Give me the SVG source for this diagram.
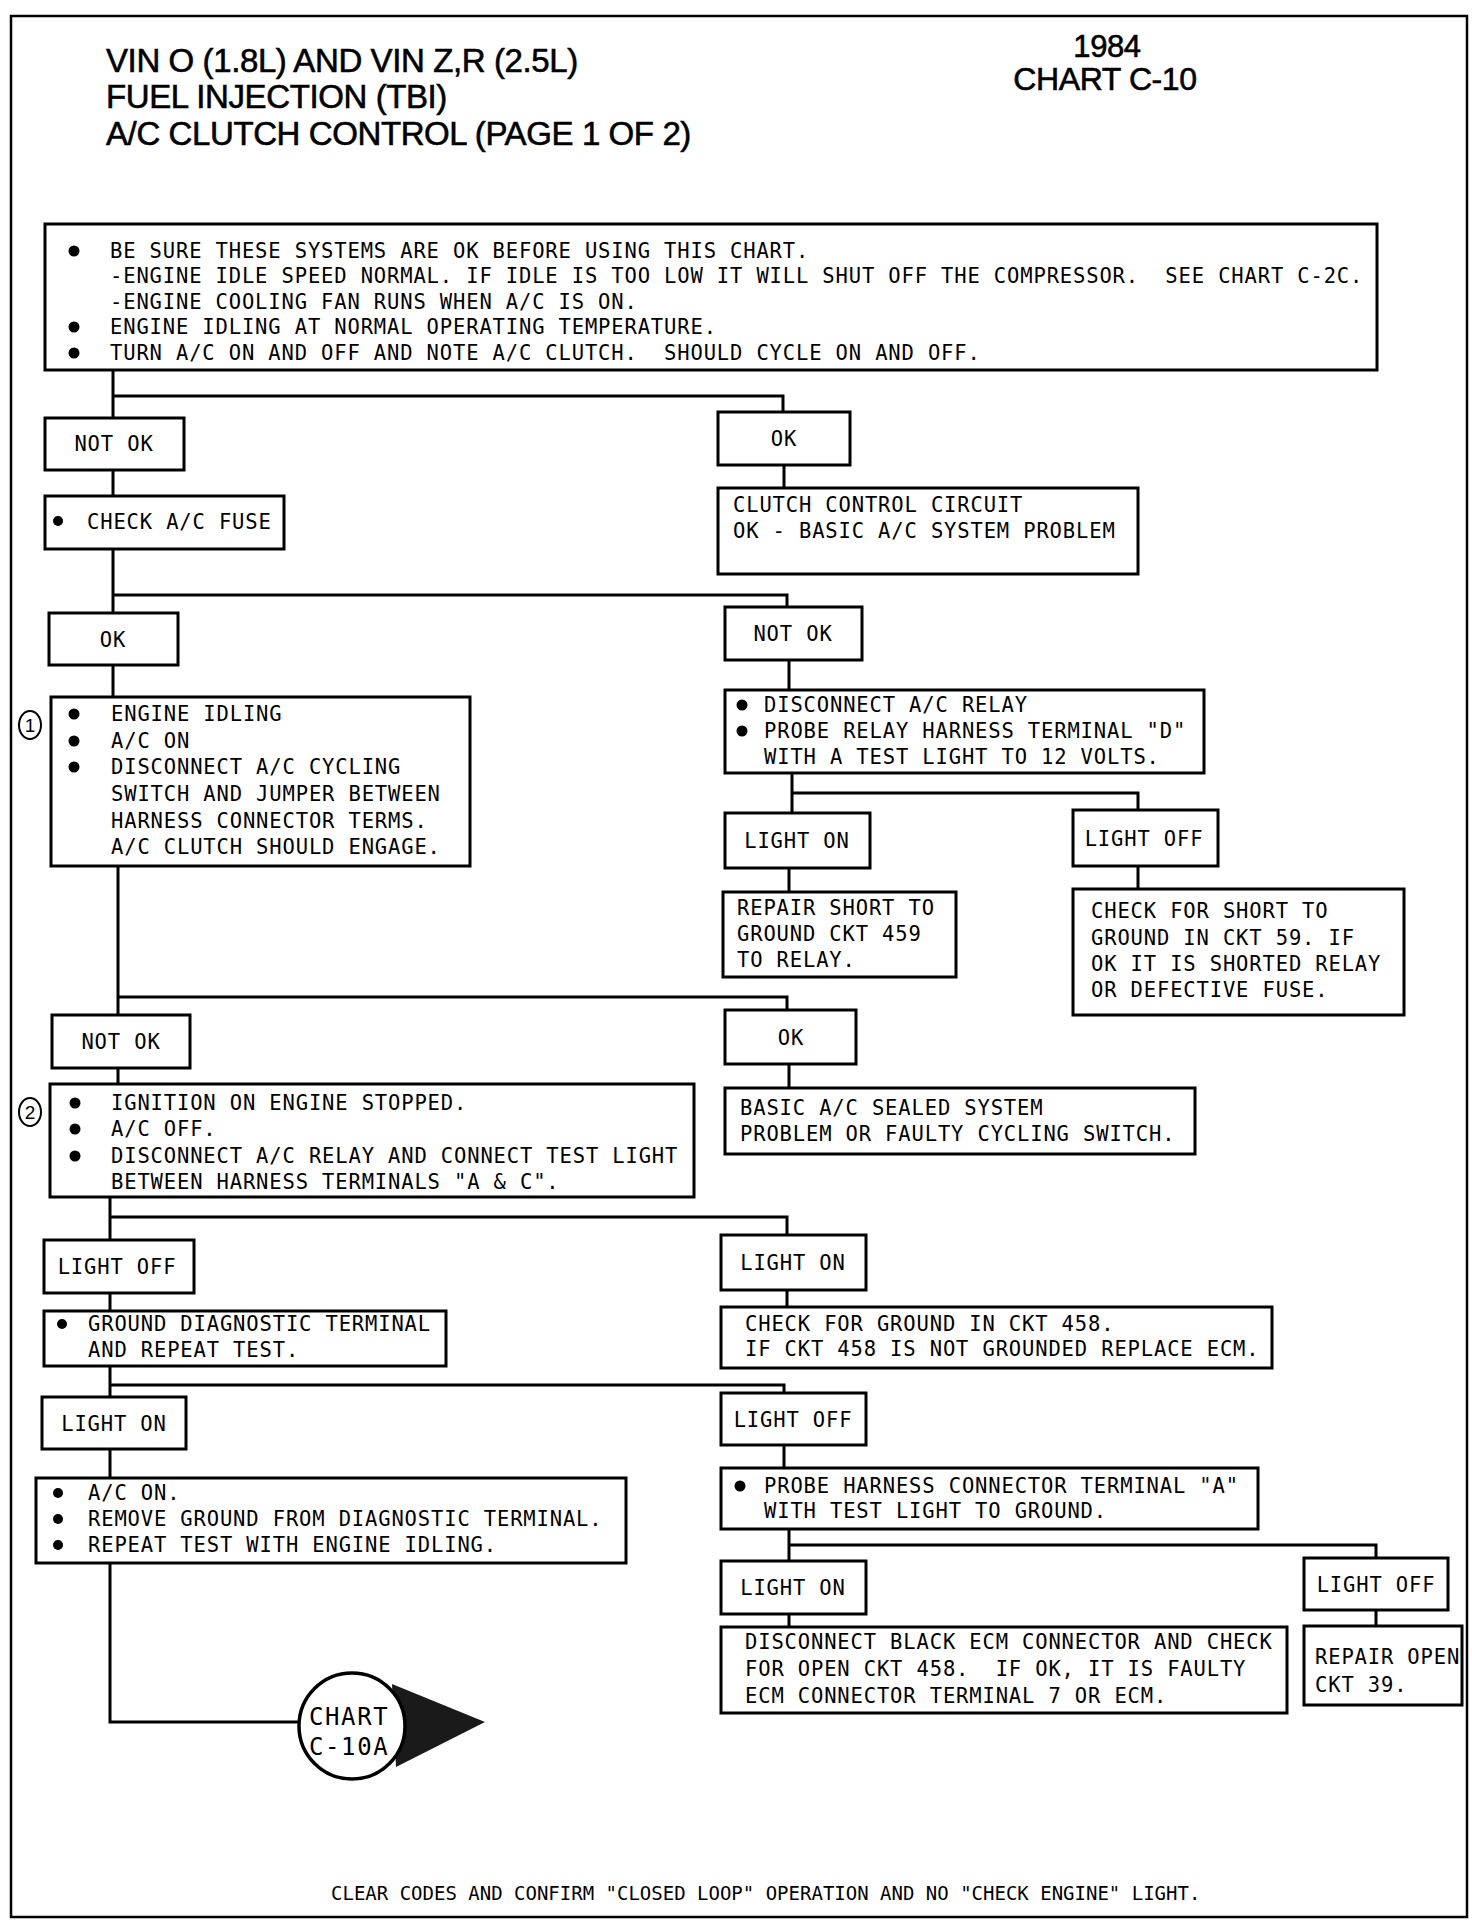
<svg xmlns="http://www.w3.org/2000/svg" width="1472" height="1928" viewBox="0 0 1472 1928">
<style>
.pg{fill:none;stroke:#000;stroke-width:2.5}
.b{fill:#fff;stroke:#000;stroke-width:3}
.c{fill:none;stroke:#000;stroke-width:3}
.t{font-family:"DejaVu Sans Mono","Liberation Mono",monospace;font-size:20.5px;letter-spacing:0.85px;fill:#000}
.m{text-anchor:middle}
.h{font-family:"Liberation Sans",Arial,sans-serif;font-size:33px;letter-spacing:-0.4px;fill:#000;stroke:#000;stroke-width:0.6px}
.d{fill:#000}
.cn{fill:#fff;stroke:#000;stroke-width:2}
.cnt{font-family:"Liberation Sans",Arial,sans-serif;font-size:19px;text-anchor:middle;fill:#000}
.ct{font-family:"DejaVu Sans Mono","Liberation Mono",monospace;font-size:24px;letter-spacing:1.6px;fill:#000}
</style>
<rect width="1472" height="1928" fill="#fff"/>
<rect class="pg" x="11" y="16" width="1456" height="1901"/>

<g id="title">
<text class="h" x="106" y="72">VIN O (1.8L) AND VIN Z,R (2.5L)</text>
<text class="h" x="106" y="108">FUEL INJECTION (TBI)</text>
<text class="h" x="106" y="145">A/C CLUTCH CONTROL (PAGE 1 OF 2)</text>
<text class="h m" x="1107" y="57" style="font-size:31px">1984</text>
<text class="h m" x="1105" y="90" style="font-size:32px">CHART C-10</text>
</g>

<g id="connectors">
<path class="c" d="M113 370V418M113 396H783V412M113 470V496M784 465V488M113 549V613M113 595H787V607M113 665V697M789 660V690M792 773V813M792 793H1138V810M789 868V892M1138 866V889M118 866V1084M118 997H787V1010M789 1064V1088M110 1197V1240M110 1217H787V1235M110 1293V1311M787 1290V1307M110 1366V1397M110 1385H784V1393M110 1449V1478M784 1445V1468M789 1529V1627M789 1545H1376V1558M1376 1610V1626M110 1563V1722H300"/>
</g>

<g id="n-top">
<rect class="b" x="45" y="224" width="1332" height="146"/>
<circle class="d" cx="74" cy="251" r="5.5"/>
<circle class="d" cx="74" cy="327" r="5.5"/>
<circle class="d" cx="74" cy="353" r="5.5"/>
<text class="t" x="110" y="258">BE SURE THESE SYSTEMS ARE OK BEFORE USING THIS CHART.</text>
<text class="t" x="110" y="283" xml:space="preserve">-ENGINE IDLE SPEED NORMAL. IF IDLE IS TOO LOW IT WILL SHUT OFF THE COMPRESSOR.  SEE CHART C-2C.</text>
<text class="t" x="110" y="309">-ENGINE COOLING FAN RUNS WHEN A/C IS ON.</text>
<text class="t" x="110" y="334">ENGINE IDLING AT NORMAL OPERATING TEMPERATURE.</text>
<text class="t" x="110" y="360" xml:space="preserve">TURN A/C ON AND OFF AND NOTE A/C CLUTCH.  SHOULD CYCLE ON AND OFF.</text>
</g>

<g id="n-notok1">
<rect class="b" x="45" y="418" width="139" height="52"/>
<text class="t m" x="114" y="451">NOT OK</text>
</g>

<g id="n-ok1">
<rect class="b" x="718" y="412" width="132" height="53"/>
<text class="t m" x="784" y="446">OK</text>
</g>

<g id="n-fuse">
<rect class="b" x="45" y="496" width="239" height="53"/>
<circle class="d" cx="58" cy="521" r="5"/>
<text class="t" x="87" y="529">CHECK A/C FUSE</text>
</g>

<g id="n-clutch">
<rect class="b" x="718" y="488" width="420" height="86"/>
<text class="t" x="733" y="512">CLUTCH CONTROL CIRCUIT</text>
<text class="t" x="733" y="538">OK - BASIC A/C SYSTEM PROBLEM</text>
</g>

<g id="n-ok2">
<rect class="b" x="49" y="613" width="129" height="52"/>
<text class="t m" x="113" y="647">OK</text>
</g>

<g id="n-notok2">
<rect class="b" x="725" y="607" width="137" height="53"/>
<text class="t m" x="793" y="641">NOT OK</text>
</g>

<g id="n-step1">
<ellipse class="cn" cx="30" cy="725" rx="11" ry="14"/>
<text class="cnt" x="30" y="732">1</text>
<rect class="b" x="51" y="697" width="419" height="169"/>
<circle class="d" cx="74" cy="714" r="5.5"/>
<circle class="d" cx="74" cy="741" r="5.5"/>
<circle class="d" cx="74" cy="767" r="5.5"/>
<text class="t" x="111" y="721">ENGINE IDLING</text>
<text class="t" x="111" y="748">A/C ON</text>
<text class="t" x="111" y="774">DISCONNECT A/C CYCLING</text>
<text class="t" x="111" y="801">SWITCH AND JUMPER BETWEEN</text>
<text class="t" x="111" y="828">HARNESS CONNECTOR TERMS.</text>
<text class="t" x="111" y="854">A/C CLUTCH SHOULD ENGAGE.</text>
</g>

<g id="n-relay">
<rect class="b" x="725" y="690" width="479" height="83"/>
<circle class="d" cx="742" cy="705" r="5.5"/>
<circle class="d" cx="742" cy="731" r="5.5"/>
<text class="t" x="764" y="712">DISCONNECT A/C RELAY</text>
<text class="t" x="764" y="738">PROBE RELAY HARNESS TERMINAL "D"</text>
<text class="t" x="764" y="764">WITH A TEST LIGHT TO 12 VOLTS.</text>
</g>

<g id="n-lighton1">
<rect class="b" x="725" y="813" width="145" height="55"/>
<text class="t m" x="797" y="848">LIGHT ON</text>
</g>

<g id="n-lightoff1">
<rect class="b" x="1073" y="810" width="145" height="56"/>
<text class="t m" x="1144" y="846">LIGHT OFF</text>
</g>

<g id="n-repairshort">
<rect class="b" x="723" y="892" width="233" height="85"/>
<text class="t" x="737" y="915">REPAIR SHORT TO</text>
<text class="t" x="737" y="941">GROUND CKT 459</text>
<text class="t" x="737" y="967">TO RELAY.</text>
</g>

<g id="n-checkshort">
<rect class="b" x="1073" y="889" width="331" height="126"/>
<text class="t" x="1091" y="918">CHECK FOR SHORT TO</text>
<text class="t" x="1091" y="945">GROUND IN CKT 59. IF</text>
<text class="t" x="1091" y="971">OK IT IS SHORTED RELAY</text>
<text class="t" x="1091" y="997">OR DEFECTIVE FUSE.</text>
</g>

<g id="n-notok3">
<rect class="b" x="52" y="1015" width="138" height="53"/>
<text class="t m" x="121" y="1049">NOT OK</text>
</g>

<g id="n-ok3">
<rect class="b" x="725" y="1010" width="131" height="54"/>
<text class="t m" x="791" y="1045">OK</text>
</g>

<g id="n-step2">
<ellipse class="cn" cx="30" cy="1112" rx="11" ry="14"/>
<text class="cnt" x="30" y="1119">2</text>
<rect class="b" x="50" y="1084" width="644" height="113"/>
<circle class="d" cx="75" cy="1103" r="5.5"/>
<circle class="d" cx="75" cy="1129" r="5.5"/>
<circle class="d" cx="75" cy="1156" r="5.5"/>
<text class="t" x="111" y="1110">IGNITION ON ENGINE STOPPED.</text>
<text class="t" x="111" y="1136">A/C OFF.</text>
<text class="t" x="111" y="1163">DISCONNECT A/C RELAY AND CONNECT TEST LIGHT</text>
<text class="t" x="111" y="1189">BETWEEN HARNESS TERMINALS "A &amp; C".</text>
</g>

<g id="n-basic">
<rect class="b" x="725" y="1088" width="470" height="66"/>
<text class="t" x="740" y="1115">BASIC A/C SEALED SYSTEM</text>
<text class="t" x="740" y="1141">PROBLEM OR FAULTY CYCLING SWITCH.</text>
</g>

<g id="n-lightoff2">
<rect class="b" x="44" y="1240" width="150" height="53"/>
<text class="t m" x="117" y="1274">LIGHT OFF</text>
</g>

<g id="n-lighton2">
<rect class="b" x="721" y="1235" width="145" height="55"/>
<text class="t m" x="793" y="1270">LIGHT ON</text>
</g>

<g id="n-ground">
<rect class="b" x="44" y="1311" width="402" height="55"/>
<circle class="d" cx="62" cy="1324" r="5"/>
<text class="t" x="88" y="1331">GROUND DIAGNOSTIC TERMINAL</text>
<text class="t" x="88" y="1357">AND REPEAT TEST.</text>
</g>

<g id="n-checkground">
<rect class="b" x="721" y="1307" width="551" height="61"/>
<text class="t" x="745" y="1331">CHECK FOR GROUND IN CKT 458.</text>
<text class="t" x="745" y="1356">IF CKT 458 IS NOT GROUNDED REPLACE ECM.</text>
</g>

<g id="n-lighton3">
<rect class="b" x="42" y="1397" width="144" height="52"/>
<text class="t m" x="114" y="1431">LIGHT ON</text>
</g>

<g id="n-lightoff3">
<rect class="b" x="721" y="1393" width="145" height="52"/>
<text class="t m" x="793" y="1427">LIGHT OFF</text>
</g>

<g id="n-acon">
<rect class="b" x="36" y="1478" width="590" height="85"/>
<circle class="d" cx="58" cy="1493" r="5"/>
<circle class="d" cx="58" cy="1519" r="5"/>
<circle class="d" cx="58" cy="1545" r="5"/>
<text class="t" x="88" y="1500">A/C ON.</text>
<text class="t" x="88" y="1526">REMOVE GROUND FROM DIAGNOSTIC TERMINAL.</text>
<text class="t" x="88" y="1552">REPEAT TEST WITH ENGINE IDLING.</text>
</g>

<g id="n-probe">
<rect class="b" x="721" y="1468" width="537" height="61"/>
<circle class="d" cx="740" cy="1486" r="5.5"/>
<text class="t" x="764" y="1493">PROBE HARNESS CONNECTOR TERMINAL "A"</text>
<text class="t" x="764" y="1518">WITH TEST LIGHT TO GROUND.</text>
</g>

<g id="n-lighton4">
<rect class="b" x="721" y="1561" width="145" height="53"/>
<text class="t m" x="793" y="1595">LIGHT ON</text>
</g>

<g id="n-lightoff4">
<rect class="b" x="1304" y="1558" width="144" height="52"/>
<text class="t m" x="1376" y="1592">LIGHT OFF</text>
</g>

<g id="n-ecm">
<rect class="b" x="721" y="1627" width="566" height="86"/>
<text class="t" x="745" y="1649">DISCONNECT BLACK ECM CONNECTOR AND CHECK</text>
<text class="t" x="745" y="1676" xml:space="preserve">FOR OPEN CKT 458.  IF OK, IT IS FAULTY</text>
<text class="t" x="745" y="1703">ECM CONNECTOR TERMINAL 7 OR ECM.</text>
</g>

<g id="n-repairopen">
<rect class="b" x="1304" y="1626" width="158" height="79"/>
<text class="t" x="1315" y="1664">REPAIR OPEN</text>
<text class="t" x="1315" y="1692">CKT 39.</text>
</g>

<g id="n-chart10a">
<path d="M392 1684L485 1722L396 1767Z" fill="#1a1a1a"/>
<circle cx="352" cy="1726" r="53" fill="#fff" stroke="#000" stroke-width="3.5"/>
<text class="ct" x="309" y="1725">CHART</text>
<text class="ct" x="309" y="1755">C-10A</text>
</g>

<text class="t" x="331" y="1900" style="font-size:19px;letter-spacing:0px">CLEAR CODES AND CONFIRM "CLOSED LOOP" OPERATION AND NO "CHECK ENGINE" LIGHT.</text>
</svg>
